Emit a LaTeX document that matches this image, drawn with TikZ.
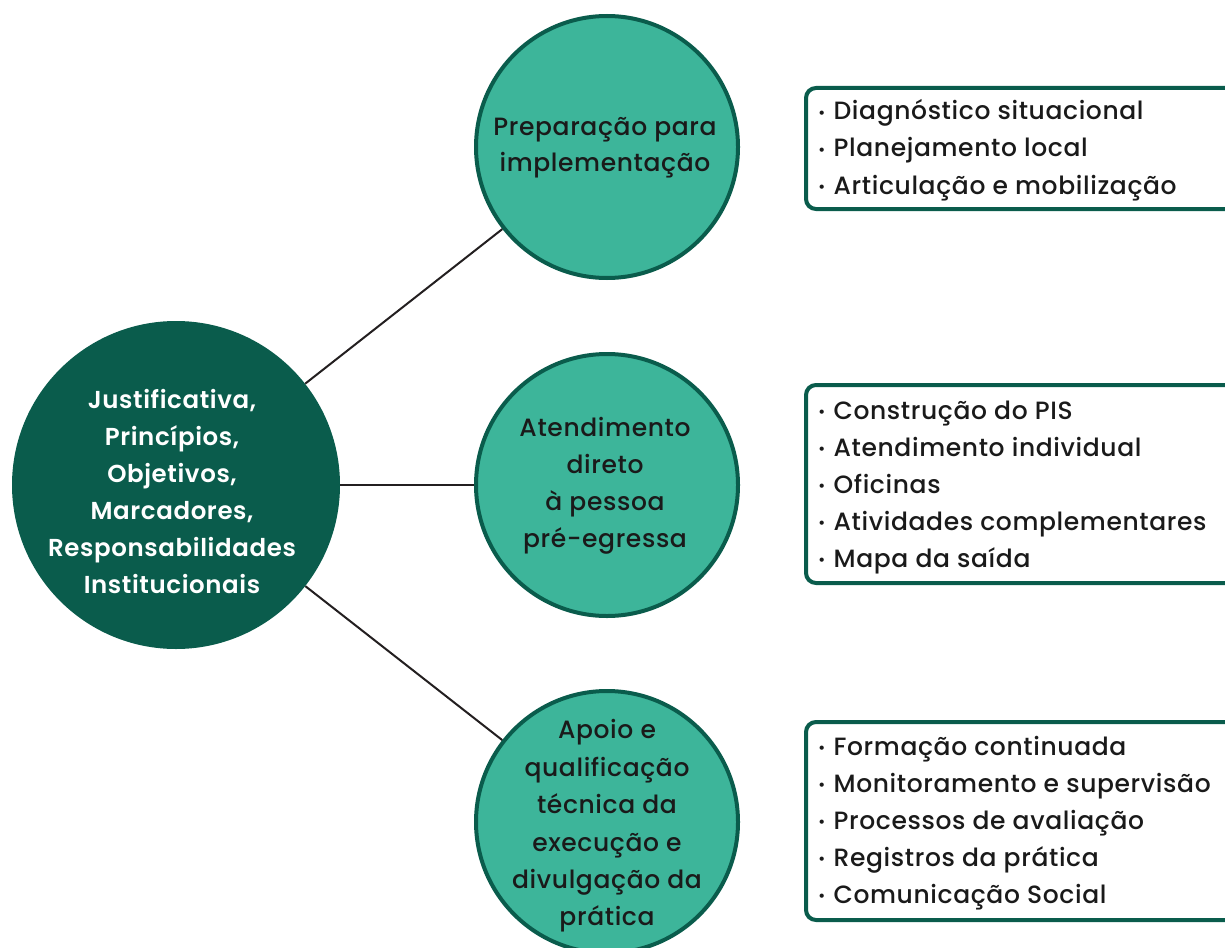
\documentclass[tikz,border=0pt]{standalone}
\usepackage{fontspec}
\setmainfont{Poppins}[UprightFont={Poppins Medium},BoldFont={Poppins SemiBold},LetterSpace=2.5]
\definecolor{darkg}{HTML}{0A5C4C}
\definecolor{lightg}{HTML}{3DB59A}
\definecolor{ink}{HTML}{1A1A1A}
\definecolor{linec}{HTML}{231F20}
\newcommand{\blt}{{\fontsize{16}{16}\selectfont\raisebox{1.5pt}{\textbullet}}\hspace{8pt}}
\tikzset{
  hub/.style={circle,fill=darkg,minimum size=328pt,inner sep=0pt},
  topic/.style={circle,fill=lightg,draw=darkg,line width=4pt,minimum size=262pt,inner sep=0pt},
  listbox/.style={draw=darkg,line width=4pt,rounded corners=10pt},
  item/.style={anchor=base west,inner sep=0pt,text=ink,font=\fontsize{25}{28}\selectfont},
  link/.style={draw=linec,line width=2pt}
}
\begin{document}
\begin{tikzpicture}[x=1pt,y=-1pt]
\useasboundingbox (0,0) rectangle (1225,947);
\coordinate (hc) at (176,485);
\coordinate (c1) at (607,147);
\coordinate (c2) at (607,485);
\coordinate (c3) at (607,822);
\node[hub] (hub) at (hc) {};
\node[topic] (t1) at (c1) {};
\node[topic] (t2) at (c2) {};
\node[topic] (t3) at (c3) {};
\draw[link] (hub) -- (t1);
\draw[link] (hub) -- (t2);
\draw[link] (hub) -- (t3);
\node[text=white,align=center,font=\bfseries\fontsize{24.5}{37}\selectfont] (hubtext) at (172,491)
  {Justificativa,\\Princípios,\\Objetivos,\\Marcadores,\\Responsabilidades\\Institucionais};
\node[text=ink,align=center,font=\fontsize{25}{36}\selectfont] (t1text) at (605,148)
  {Preparação para\\implementação};
\node[text=ink,align=center,font=\fontsize{25}{37}\selectfont] (t2text) at (605,486)
  {Atendimento\\direto\\à pessoa\\pré-egressa};
\node[text=ink,align=center,font=\fontsize{25}{37.4}\selectfont] (t3text) at (607,826)
  {Apoio e\\qualificação\\técnica da\\execução e\\divulgação da\\prática};
\draw[listbox] (806,88) rectangle (1245,209);
\draw[listbox] (806,385) rectangle (1245,583);
\draw[listbox] (806,722) rectangle (1245,920);
\foreach \t [count=\i] in {Diagnóstico situacional,Planejamento local,Articulação e mobilização}
  {\node[item] (a\i) at (818,{111+9+37*(\i-1)}) {\blt\t};}
\foreach \t [count=\i] in {Construção do PIS,Atendimento individual,Oficinas,Atividades complementares,Mapa da saída}
  {\node[item] (b\i) at (818,{410+9+37*(\i-1)}) {\blt\t};}
\foreach \t [count=\i] in {Formação continuada,Monitoramento e supervisão,Processos de avaliação,Registros da prática,Comunicação Social}
  {\node[item] (c\i) at (818,{746+9+37*(\i-1)}) {\blt\t};}
\end{tikzpicture}
\end{document}
